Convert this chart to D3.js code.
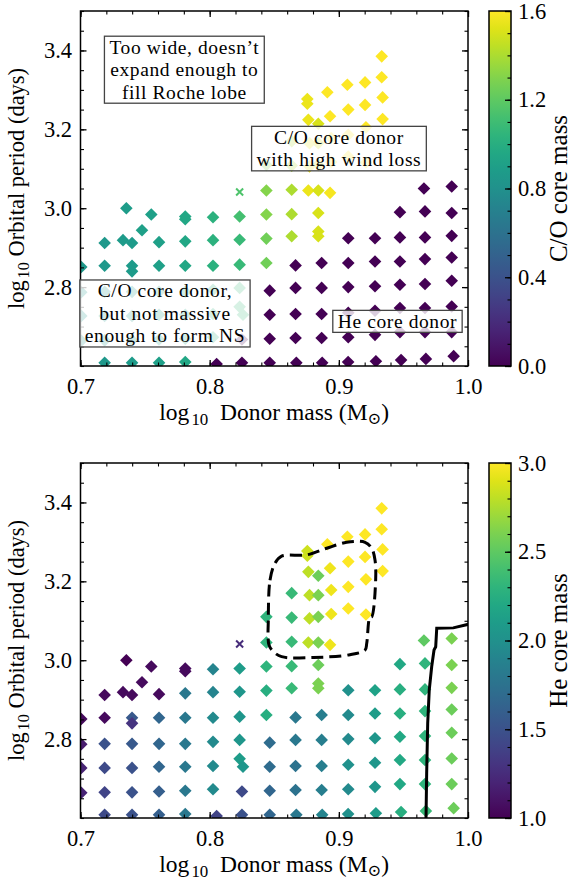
<!DOCTYPE html>
<html>
<head>
<script src="https://d3js.org/d3.v7.min.js"></script>
<style>
body { margin: 0; background: #fff; }
text { font-family: "Liberation Serif", "DejaVu Serif", serif; fill: #000; }
</style>
</head>
<body>
<svg width="579" height="884"></svg>
<script>

// donor grid: log10 donor mass, log10 orbital period, C/O core mass, He core mass
const donorLogM = [
  0.7006, 0.7006, 0.7006, 0.7006,
  0.7187, 0.7187, 0.7187, 0.7187, 0.7187, 0.7187,
  0.7329, 0.7355, 0.7476, 0.7548,
  0.7399, 0.7399, 0.7399, 0.7399, 0.7399, 0.7399, 0.7399,
  0.7608, 0.7608, 0.7608, 0.7608, 0.7608, 0.7608,
  0.7811, 0.7811, 0.7811, 0.7811, 0.7811, 0.7811, 0.7811, 0.7811,
  0.8026, 0.8026, 0.8026, 0.8026, 0.8026, 0.8026, 0.8054,
  0.8232, 0.8232, 0.8232, 0.8232, 0.8232, 0.8258, 0.8250, 0.8250,
  0.8439, 0.8439, 0.8439, 0.8439, 0.8439, 0.8465, 0.8465, 0.8465, 0.8465,
  0.8635, 0.8635, 0.8635, 0.8635, 0.8635, 0.8665, 0.8665, 0.8665, 0.8665, 0.8671,
  0.8756, 0.8756, 0.8764, 0.8773, 0.8773, 0.8764,
  0.8841, 0.8841, 0.8841, 0.8841, 0.8841, 0.8841, 0.8841,
  0.8867, 0.8867, 0.8867, 0.8867, 0.8871,
  0.8911, 0.8932, 0.8941, 0.8941, 0.8932,
  0.9066, 0.9073, 0.9073, 0.9073,
  0.9073, 0.9073, 0.9073, 0.9073, 0.9073, 0.9072,
  0.9203, 0.9203, 0.9210, 0.9210,
  0.9280, 0.9280, 0.9280, 0.9280, 0.9280, 0.9287,
  0.9332, 0.9332, 0.9339, 0.9339,
  0.9473, 0.9473, 0.9473, 0.9473, 0.9473, 0.9473, 0.9482,
  0.9659, 0.9667, 0.9667, 0.9667, 0.9667, 0.9667, 0.9667, 0.9674,
  0.9874, 0.9874, 0.9874, 0.9874, 0.9874, 0.9874, 0.9874, 0.9889
];
const logPeriod = [
  2.851, 2.787, 2.727, 2.664,
  2.912, 2.854, 2.788, 2.727, 2.665, 2.608,
  2.919, 3.000, 2.944, 2.984,
  2.912, 2.854, 2.840, 2.788, 2.727, 2.665, 2.608,
  2.914, 2.854, 2.788, 2.730, 2.667, 2.608,
  2.979, 2.972, 2.916, 2.854, 2.788, 2.730, 2.669, 2.610,
  2.977, 2.919, 2.854, 2.793, 2.732, 2.673, 2.605,
  2.979, 2.920, 2.857, 2.798, 2.750, 2.730, 2.667, 2.608,
  3.110, 3.045, 2.984, 2.923, 2.861, 2.791, 2.730, 2.669, 2.608,
  3.170, 3.108, 3.047, 2.985, 2.929, 2.855, 2.798, 2.732, 2.671, 2.608,
  3.277, 3.265, 3.224, 3.165, 3.106, 3.045,
  3.214, 3.165, 3.110, 3.045, 2.988, 2.941, 2.929,
  2.861, 2.798, 2.732, 2.671, 2.608,
  3.294, 3.233, 3.178, 3.117, 3.039,
  3.313, 3.250, 3.186, 3.131,
  2.924, 2.861, 2.800, 2.735, 2.673, 2.610,
  3.319, 3.262, 3.205, 3.116,
  2.924, 2.865, 2.802, 2.740, 2.679, 2.612,
  3.385, 3.332, 3.281, 3.226,
  2.990, 2.926, 2.865, 2.806, 2.747, 2.686, 2.615,
  3.050, 2.992, 2.926, 2.871, 2.808, 2.747, 2.686, 2.618,
  3.055, 2.988, 2.930, 2.875, 2.816, 2.751, 2.686, 2.625
];
const coCoreMass = [
  0.85, 0.85, 0.85, 0.85,
  0.85, 0.85, 0.85, 0.85, 0.85, 0.85,
  0.87, 0.88, 0.90, 0.90,
  0.87, 0.87, 0.87, 0.87, 0.87, 0.87, 0.87,
  0.90, 0.90, 0.90, 0.90, 0.90, 0.90,
  0.95, 0.95, 0.95, 0.95, 0.95, 0.95, 0.95, 0.95,
  1.02, 1.02, 1.02, 1.02, 1.02, 1.02, 0,
  1.12, 1.08, 1.08, 1.08, 1.08, 1.08, 0, 0,
  1.30, 1.30, 1.30, 1.25, 1.25, 0, 0, 0, 0,
  1.40, 1.40, 1.40, 1.40, 1.40, 0, 0, 0, 0, 0,
  1.55, 1.55, 1.55, 1.55, 1.55, 1.55,
  1.50, 1.50, 1.50, 1.50, 1.50, 1.50, 1.50,
  0, 0, 0, 0, 0,
  1.60, 1.60, 1.60, 1.60, 1.58,
  1.60, 1.60, 1.60, 1.60,
  0, 0, 0, 0, 0, 0,
  1.60, 1.60, 1.60, 1.60,
  0, 0, 0, 0, 0, 0,
  1.60, 1.60, 1.60, 1.60,
  0, 0, 0, 0, 0, 0, 0,
  0, 0, 0, 0, 0, 0, 0, 0,
  0, 0, 0, 0, 0, 0, 0, 0
];
const heCoreMass = [
  1.05, 1.15, 1.20, 1.20,
  1.05, 1.05, 1.50, 1.45, 1.40, 1.45,
  1.05, 1.00, 1.05, 1.05,
  1.05, 1.55, 1.30, 1.55, 1.50, 1.50, 1.50,
  1.05, 1.65, 1.65, 1.65, 1.60, 1.60,
  1.05, 1.05, 1.80, 1.80, 1.80, 1.80, 1.80, 1.80,
  1.90, 1.90, 1.95, 1.95, 1.95, 1.95, 1.40,
  2.10, 2.05, 2.05, 2.05, 2.10, 2.05, 1.45, 1.50,
  2.30, 2.30, 2.30, 2.25, 2.25, 1.70, 1.70, 1.65, 1.65,
  2.35, 2.35, 2.35, 2.35, 2.35, 1.80, 1.80, 1.75, 1.75, 1.80,
  2.85, 2.85, 2.80, 2.80, 2.80, 2.80,
  2.55, 2.60, 2.60, 2.60, 2.55, 2.60, 2.60,
  1.85, 1.85, 1.85, 1.85, 1.90,
  3.00, 2.95, 2.95, 2.95, 2.95,
  3.00, 3.00, 3.00, 3.00,
  2.00, 1.95, 1.95, 2.00, 1.95, 2.00,
  3.00, 3.00, 3.00, 3.00,
  2.15, 2.10, 2.05, 2.05, 2.05, 2.10,
  3.00, 3.00, 3.00, 3.00,
  2.20, 2.25, 2.25, 2.20, 2.20, 2.20, 2.25,
  2.50, 2.30, 2.30, 2.30, 2.30, 2.30, 2.30, 2.35,
  2.60, 2.60, 2.60, 2.55, 2.55, 2.55, 2.55, 2.55
];

// failed model marked with a cross
const crossLogM = [0.8232];
const crossLogP = [3.041];
const crossCO = [1.15];
const crossHe = [1.25];

// dashed region (high wind loss) and solid boundary, bottom panel
const loopLogM = [0.8454, 0.8467, 0.8506, 0.8557, 0.8751, 0.8906, 0.9061, 0.9203, 0.9254, 0.9280, 0.9285, 0.9254, 0.9241, 0.9216, 0.9203, 0.9086, 0.8802, 0.8557, 0.8493, 0.8459, 0.8454];
const loopLogP = [3.110, 3.203, 3.246, 3.264, 3.267, 3.284, 3.299, 3.299, 3.284, 3.254, 3.203, 3.110, 3.110, 3.043, 3.026, 3.014, 3.007, 3.009, 3.022, 3.039, 3.102];
const edgeLogM = [0.9675, 0.9680, 0.9688, 0.9700, 0.9719, 0.9737, 0.9750, 0.9758, 0.9886, 1.0015];
const edgeLogP = [2.600, 2.713, 2.840, 2.924, 2.984, 3.026, 3.034, 3.081, 3.082, 3.092];

const xTicks = [0.7, 0.8, 0.9, 1.0];
const yTicks = [2.8, 3.0, 3.2, 3.4];
const coTicks = [0.0, 0.4, 0.8, 1.2, 1.6];
const heTicks = [1.0, 1.5, 2.0, 2.5, 3.0];

var svg = d3.select("svg"),
    left = 80.5, right = 468, plotH = 355,
    cbX = 489, cbW = 22,
    tickFont = 22.5, labelFont = 22.5, noteFont = 19.5;

var x = d3.scaleLinear().domain([0.7, 1.0]).range([left, right]);
var xMinor = d3.range(0, 16).map(function(i) { return 0.7 + i * 0.02; });
var yMinor = d3.range(0, 19).map(function(i) { return 2.6 + i * 0.05; });

var grad = svg.append("defs").append("linearGradient")
    .attr("id", "viridis").attr("x1", 0).attr("y1", 1).attr("x2", 0).attr("y2", 0);
d3.range(0, 21).forEach(function(i) {
  grad.append("stop").attr("offset", i / 20).attr("stop-color", d3.interpolateViridis(i / 20));
});

function diamond(r) { return "M0," + (-r) + "L" + r + ",0L0," + r + "L" + (-r) + ",0Z"; }

function logLabel(sel, rest, gap) {
  sel.append("tspan").text("log");
  sel.append("tspan").attr("font-size", "0.72em").attr("dx", "0.12em").attr("dy", "0.3em").text("10");
  sel.append("tspan").attr("dy", "-0.216em").text(gap + rest);
}

function drawPanel(top, idx, values, crossVal, cDomain, cTicks, cMinorStep, cLabel) {
  var y = d3.scaleLinear().domain([2.6, 3.5]).range([top + plotH, top]);
  var color = d3.scaleSequential(d3.interpolateViridis).domain(cDomain);
  var g = svg.append("g");

  g.append("clipPath").attr("id", "clip" + idx)
    .append("rect").attr("x", left).attr("y", top).attr("width", right - left).attr("height", plotH);

  var plot = g.append("g").attr("clip-path", "url(#clip" + idx + ")");

  plot.selectAll("path.pt")
    .data(donorLogM.map(function(m, i) { return i; }))
    .enter().append("path")
      .attr("class", "pt")
      .attr("d", diamond(6.3))
      .attr("transform", function(i) { return "translate(" + x(donorLogM[i]) + "," + y(logPeriod[i]) + ")"; })
      .attr("fill", function(i) { return color(values[i]); });

  plot.selectAll("path.cross")
    .data(crossLogM.map(function(m, i) { return i; }))
    .enter().append("path")
      .attr("class", "cross")
      .attr("d", "M-3.5,-3.5L3.5,3.5M-3.5,3.5L3.5,-3.5")
      .attr("transform", function(i) { return "translate(" + x(crossLogM[i]) + "," + y(crossLogP[i]) + ")"; })
      .attr("stroke", function(i) { return color(crossVal[i]); })
      .attr("stroke-width", 2);

  // ticks on all four sides, pointing in
  var axes = [
    [d3.axisBottom, "translate(0," + (top + plotH) + ")", x, xTicks, xMinor, true],
    [d3.axisTop, "translate(0," + top + ")", x, xTicks, xMinor, false],
    [d3.axisLeft, "translate(" + left + ",0)", y, yTicks, yMinor, true],
    [d3.axisRight, "translate(" + right + ",0)", y, yTicks, yMinor, false]
  ];
  axes.forEach(function(a) {
    g.append("g").attr("transform", a[1])
      .call(a[0](a[2]).tickValues(a[4]).tickSize(-3.5).tickFormat(""))
      .call(function(s) { s.select(".domain").remove(); s.selectAll("line").attr("stroke-width", 1.1); });
    g.append("g").attr("transform", a[1])
      .call(a[0](a[2]).tickValues(a[3]).tickSize(-6).tickPadding(a[2] === x ? 12 : 8.5)
        .tickFormat(a[5] ? d3.format(".1f") : ""))
      .call(function(s) {
        s.select(".domain").remove();
        s.selectAll("line").attr("stroke-width", 1.3);
        s.selectAll("text").attr("font-family", null).attr("font-size", tickFont);
      });
  });

  g.append("rect").attr("x", left).attr("y", top).attr("width", right - left).attr("height", plotH)
    .attr("fill", "none").attr("stroke", "#000").attr("stroke-width", 1.5);

  g.append("text").attr("x", (left + right) / 2).attr("y", top + plotH + 54)
    .attr("text-anchor", "middle").attr("font-size", 23.5)
    .call(function(t) {
      logLabel(t, "Donor mass (M", "\u2002");
      t.append("tspan").attr("font-family", "DejaVu Serif").attr("font-size", "0.7em").attr("dy", "0.25em").text("\u2299");
      t.append("tspan").attr("dy", "-0.175em").text(")");
    });

  g.append("text").attr("transform", "translate(24," + (top + plotH / 2) + ") rotate(-90)")
    .attr("text-anchor", "middle").attr("font-size", labelFont)
    .call(function(t) { logLabel(t, "Orbital period (days)", " "); });

  // colorbar
  var cy = d3.scaleLinear().domain(cDomain).range([top + plotH, top]);
  g.append("rect").attr("x", cbX).attr("y", top).attr("width", cbW).attr("height", plotH)
    .attr("fill", "url(#viridis)");
  var n = Math.round((cDomain[1] - cDomain[0]) / cMinorStep);
  g.append("g").attr("transform", "translate(" + (cbX + cbW) + ",0)")
    .call(d3.axisRight(cy).tickValues(d3.range(0, n + 1).map(function(i) { return cDomain[0] + i * cMinorStep; }))
      .tickSize(-3.5).tickFormat(""))
    .call(function(s) { s.select(".domain").remove(); s.selectAll("line").attr("stroke-width", 1.1); });
  g.append("g").attr("transform", "translate(" + (cbX + cbW) + ",0)")
    .call(d3.axisRight(cy).tickValues(cTicks).tickSize(-6).tickPadding(7).tickFormat(d3.format(".1f")))
    .call(function(s) {
      s.select(".domain").remove();
      s.selectAll("line").attr("stroke-width", 1.3);
      s.selectAll("text").attr("font-family", null).attr("font-size", tickFont);
    });
  g.append("rect").attr("x", cbX).attr("y", top).attr("width", cbW).attr("height", plotH)
    .attr("fill", "none").attr("stroke", "#000").attr("stroke-width", 1.5);
  g.append("text").attr("transform", "translate(567," + (top + plotH / 2) + ") rotate(-90)")
    .attr("text-anchor", "middle").attr("font-size", 25).text(cLabel);

  return { g: g, plot: plot, y: y };
}

function note(g, xv, yv, lines, y) {
  var cx = x(xv), cy = y(yv), lh = 22.5;
  var box = g.append("rect");
  var t = g.append("text").attr("text-anchor", "middle").attr("font-size", noteFont)
    .attr("letter-spacing", "0.6px");
  lines.forEach(function(s, i) {
    t.append("tspan").attr("x", cx).attr("y", cy + (i - (lines.length - 1) / 2) * lh).attr("dy", "0.33em").text(s);
  });
  var b = t.node().getBBox();
  box.attr("x", b.x - 5).attr("y", b.y - 0.5).attr("width", b.width + 10).attr("height", b.height + 1)
    .attr("fill", "#fff").attr("fill-opacity", 0.8).attr("stroke", "#444").attr("stroke-width", 1.3);
}

var topPanel = drawPanel(11, 0, coCoreMass, crossCO, [0, 1.6], coTicks, 0.1, "C/O core mass");
note(topPanel.g, 0.7804, 3.351, ["Too wide, doesn\u2019t", "expand enough to", "fill Roche lobe"], topPanel.y);
note(topPanel.g, 0.9001, 3.151, ["C/O core donor", "with high wind loss"], topPanel.y);
note(topPanel.g, 0.7654, 2.733, ["C/O core donor,", "but not massive", "enough to form NS"], topPanel.y);
note(topPanel.g, 0.9454, 2.713, ["He core donor"], topPanel.y);

var botPanel = drawPanel(463, 1, heCoreMass, crossHe, [1, 3], heTicks, 0.1, "He core mass");

botPanel.plot.append("path")
  .datum(loopLogM.map(function(m, i) { return [m, loopLogP[i]]; }))
  .attr("d", d3.line().curve(d3.curveCatmullRomClosed)
    .x(function(d) { return x(d[0]); }).y(function(d) { return botPanel.y(d[1]); }))
  .attr("fill", "none").attr("stroke", "#000").attr("stroke-width", 3).attr("stroke-dasharray", "12,6");

botPanel.plot.append("path")
  .datum(edgeLogM.map(function(m, i) { return [m, edgeLogP[i]]; }))
  .attr("d", d3.line()
    .x(function(d) { return x(d[0]); }).y(function(d) { return botPanel.y(d[1]); }))
  .attr("fill", "none").attr("stroke", "#000").attr("stroke-width", 3);

</script>
</body>
</html>
